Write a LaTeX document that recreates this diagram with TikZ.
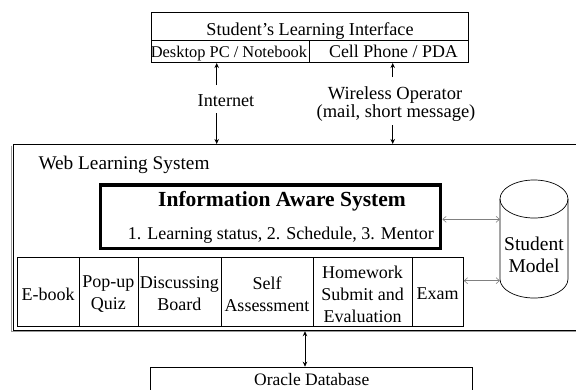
\documentclass[tikz,border=0pt]{standalone}
\usepackage{fontspec}
\setmainfont{Liberation Serif}
\usetikzlibrary{arrows.meta}
\newcommand{\fsz}[1]{\fontsize{#1}{#1}\selectfont}
\begin{document}
\begin{tikzpicture}[x=1pt,y=-1pt,
  frame/.style={draw, line width=0.7pt, inner sep=0pt, anchor=north west},
  txt/.style={inner sep=0pt, font=\fontsize{18}{22}\selectfont, align=center},
  blkarrow/.style={line width=1pt, -{Stealth[length=5pt,width=4.5pt]}},
  blkboth/.style={line width=1pt, {Stealth[length=5pt,width=4.5pt]}-{Stealth[length=5pt,width=4.5pt]}},
  grayarrow/.style={draw=gray, line width=0.6pt, {Straight Barb[length=3.5pt,width=6pt]}-{Straight Barb[length=3.5pt,width=6pt]}},
]
\useasboundingbox (0,0) rectangle (576,389);

% ---- top: student's learning interface
\node[frame, minimum width=317, minimum height=27.7] (sli) at (150.7,12.3) {};
\node[txt, anchor=base, font=\fsz{18.2}] (slit) at (310,35) {Student's Learning Interface};
\node[frame, minimum width=158.3, minimum height=22.3] (desk) at (150.7,40) {};
\node[frame, minimum width=158.7, minimum height=22.3] (cell) at (309,40) {};
\node[txt, anchor=base, font=\fsz{16.4}] (deskt) at (229,57.3) {Desktop PC / Notebook};
\node[txt, anchor=base, font=\fsz{17.9}] (cellt) at (393.5,57.5) {Cell Phone / PDA};

% ---- web learning system frame
\draw[gray!80, line width=1.2pt] (11.2,145.5) -- (11.2,331.5) -- (577,331.5);
\node[frame, minimum width=563.8, minimum height=185.5] (wls) at (13.2,144) {};
\node[anchor=base west, inner sep=0pt, font=\fsz{19.3}] (wlst) at (38.3,169) {Web Learning System};

% ---- connections top
\node[txt, anchor=base, font=\fsz{18.2}] (inet) at (226,106) {Internet};
\coordinate (inA) at (216.7,85);
\coordinate (inB) at (216.7,113);
\draw[blkarrow] (inA) -- (inA |- desk.south);
\draw[blkarrow] (inB) -- (inB |- wls.north);

\node[txt, anchor=base, font=\fsz{18.5}] (wo1) at (395,99) {Wireless Operator};
\node[txt, anchor=base, font=\fsz{18.5}] (wo2) at (396,117.5) {(mail, short message)};
\coordinate (woA) at (392.7,77);
\coordinate (woB) at (392.7,125);
\draw[blkarrow] (woA) -- (woA |- cell.south);
\draw[blkarrow] (woB) -- (woB |- wls.north);

% ---- information aware system
\node[draw, line width=3.3pt, inner sep=0pt, anchor=north west, minimum width=340, minimum height=63.4] (ias) at (99,183.3) {};
\node[anchor=base, inner sep=0pt, font=\bfseries\fsz{21.5}] (iast) at (282,206.5) {Information Aware System};
\node[anchor=base east, inner sep=0pt, font=\fsz{18}] (iass) at (434,239) {1. Learning status, 2. Schedule, 3. Mentor};

% ---- modules table
\node[frame, minimum width=61.7, minimum height=69] (c1) at (17.3,257) {};
\node[frame, minimum width=58.5, minimum height=69] (c2) at (79,257) {};
\node[frame, minimum width=83.5, minimum height=69] (c3) at (137.5,257) {};
\node[frame, minimum width=92,   minimum height=69] (c4) at (221,257) {};
\node[frame, minimum width=99,   minimum height=69] (c5) at (313,257) {};
\node[frame, minimum width=51,   minimum height=69] (c6) at (412,257) {};
\node[txt] (t1) at (48.2,294) {E-book};
\node[txt] (t2) at (108.3,294) {Pop-up\\Quiz};
\node[txt] (t3) at (179.3,294) {Discussing\\Board};
\node[txt] (t4) at (267,294) {Self\\Assessment};
\node[txt] (t5) at (362.5,294) {Homework\\Submit and\\Evaluation};
\node[txt] (t6) at (437.5,294) {Exam};

% ---- student model cylinder
\draw[line width=0.7pt] (500,199) -- (500,279) arc[start angle=180, end angle=0, x radius=34, y radius=19] -- (568,199);
\draw[line width=0.7pt] (534,199) ellipse[x radius=34, y radius=19];
\node[txt, font=\fontsize{19.5}{22}\selectfont] (smt) at (534,254.7) {Student\\Model};
\coordinate (smA) at (500,219.3);
\coordinate (smB) at (500,280.7);
\draw[grayarrow] (ias.east |- smA) -- (smA);
\draw[grayarrow] (c6.east |- smB) -- (smB);

% ---- oracle database
\node[frame, minimum width=321.7, minimum height=40] (db) at (150,366.7) {};
\node[anchor=base, inner sep=0pt, font=\fsz{17.5}] (dbt) at (311.7,385.5) {Oracle Database};
\coordinate (dbx) at (305,0);
\draw[blkboth] (dbx |- 0,331.2) -- (dbx |- db.north);
\end{tikzpicture}
\end{document}
